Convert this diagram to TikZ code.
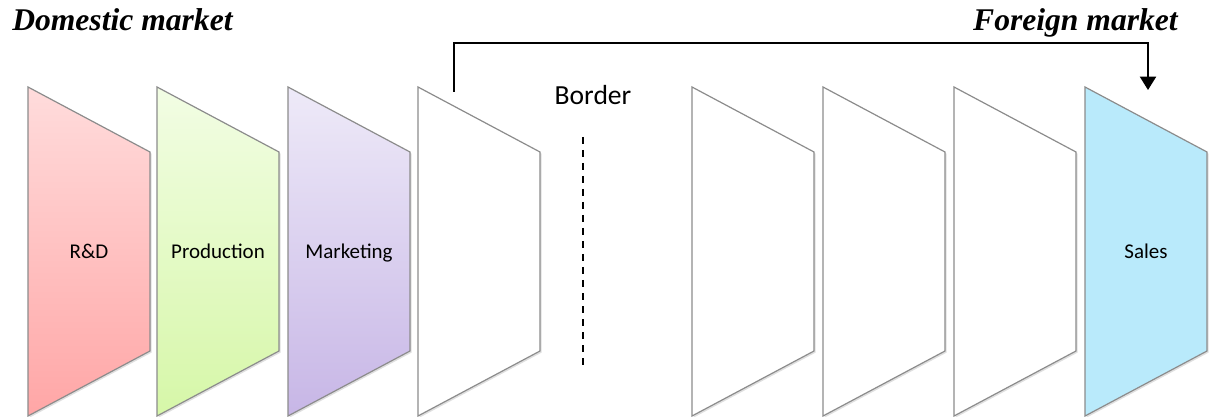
\documentclass[tikz,border=0pt]{standalone}
\usepackage{fontspec}
\setmainfont{Liberation Serif}
\setsansfont{Carlito}
\usetikzlibrary{arrows.meta,shadows}

\definecolor{rdtop}{HTML}{FFDCDC}
\definecolor{rdbottom}{HTML}{FFA6A6}
\definecolor{prodtop}{HTML}{F2FDE4}
\definecolor{prodbottom}{HTML}{D6F7A8}
\definecolor{marktop}{HTML}{EEEAF8}
\definecolor{markbottom}{HTML}{C7B6E6}
\definecolor{salesfill}{HTML}{B9EAFB}
\definecolor{panelline}{HTML}{8C8C8C}

\begin{document}
\begin{tikzpicture}[x=0.75pt,y=-0.75pt]
        % Define styles
        \tikzset{
            panel/.style={draw=panelline, line width=0.9pt, line join=miter,
                drop shadow={shadow xshift=1.2pt, shadow yshift=-1.2pt, opacity=0.25}},
            label/.style={font=\sffamily\fontsize{15.75}{18}\selectfont, anchor=base, inner sep=0pt},
            heading/.style={font=\rmfamily\bfseries\itshape\fontsize{23.7}{26}\selectfont, inner sep=0pt},
            arrow/.style={-{Triangle[width=12pt,length=10pt]}, line width=1.5pt}
        }
        \useasboundingbox (0,0) rectangle (1211,417);

        % Domestic panels
        \path[panel, top color=rdtop, bottom color=rdbottom] (28,87) -- (150,152) -- (150,351) -- (28,416) -- cycle;
        \path[panel, top color=prodtop, bottom color=prodbottom] (157,87) -- (279,152) -- (279,351) -- (157,416) -- cycle;
        \path[panel, top color=marktop, bottom color=markbottom] (288,87) -- (410,152) -- (410,351) -- (288,416) -- cycle;
        \path[panel, fill=white] (418,87) -- (540,152) -- (540,351) -- (418,416) -- cycle;

        % Foreign panels
        \path[panel, fill=white] (692,87) -- (814,152) -- (814,351) -- (692,416) -- cycle;
        \path[panel, fill=white] (823,87) -- (945,152) -- (945,351) -- (823,416) -- cycle;
        \path[panel, fill=white] (954,87) -- (1076,152) -- (1076,351) -- (954,416) -- cycle;
        \path[panel, fill=salesfill] (1085,87) -- (1207,152) -- (1207,351) -- (1085,416) -- cycle;

        % Nodes
        \node[label] (rd) at (89,258) {R\&D};
        \node[label] (production) at (218,258) {Production};
        \node[label] (marketing) at (349,258) {Marketing};
        \node[label] (sales) at (1146,258) {Sales};
        \node[heading, anchor=base west] (domestic) at (12,31) {Domestic market};
        \node[heading, anchor=base east] (foreign) at (1178,31) {Foreign market};
        \node[font=\sffamily\fontsize{20.7}{24}\selectfont, anchor=base, inner sep=0pt] (border) at (593,105) {Border};

        \coordinate (border_top) at (583,137);
        \coordinate (border_bottom) at (583,366);
        \coordinate (arrow_start) at (454,92);
        \coordinate (arrow_corner) at (800,43);
        \coordinate (arrow_end) at (1148,90);

        % Arrows
        \draw[line width=1.5pt, dash pattern=on 5.25pt off 4.5pt] (border_top) -- (border_bottom);
        \draw[arrow] (arrow_start) |- (arrow_corner) -| (arrow_end);
\end{tikzpicture}
\end{document}
